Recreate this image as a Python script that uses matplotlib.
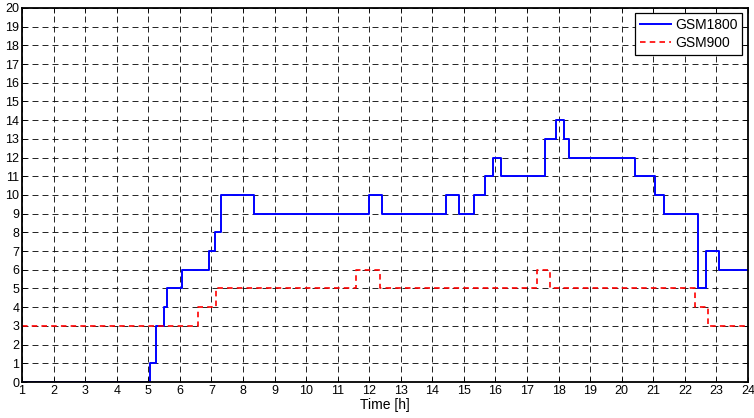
import matplotlib
matplotlib.use("Agg")
import matplotlib.pyplot as plt

plt.rcParams['font.family'] = ['Liberation Sans', 'DejaVu Sans']
plt.rcParams['lines.scale_dashes'] = False

# Step series: time of each change [h] and the value holding from there on
gsm1800_t = [1, 5.05, 5.24, 5.49, 5.58, 6.08, 6.92, 7.1, 7.29, 8.36, 12.0, 12.42,
             14.42, 14.84, 15.33, 15.67, 15.92, 16.17, 17.58, 17.91, 18.16, 18.33,
             20.41, 21.07, 21.34, 22.42, 22.68, 23.09, 24]
gsm1800_v = [0, 1, 3, 4, 5, 6, 7, 8, 10, 9, 10, 9,
             10, 9, 10, 11, 12, 11, 13, 14, 13, 12,
             11, 10, 9, 5, 7, 6, 6]

gsm900_t = [1, 6.56, 7.15, 11.58, 12.34, 17.33, 17.74, 22.32, 22.74, 24]
gsm900_v = [3, 4, 5, 6, 5, 6, 5, 4, 3, 3]

x_ticks = list(range(1, 25))
y_ticks = list(range(0, 21))

fig = plt.figure(figsize=(7.54, 4.18), dpi=100)
ax = fig.add_axes([0.0292, 0.0861, 0.9628, 0.895])

ax.step(gsm1800_t, gsm1800_v, where='post', color='#0000ff', lw=1.4, label='GSM1800')
ax.step(gsm900_t, gsm900_v, where='post', color='#ff0000', lw=1.2,
        linestyle=(0, (4, 3)), label='GSM900')

ax.set_xlim(1, 24)
ax.set_ylim(0, 20)
ax.set_xticks(x_ticks)
ax.set_yticks(y_ticks)
ax.grid(True, color='black', lw=0.6, linestyle=(0, (4.3, 2.9)))
ax.tick_params(direction='in', top=True, right=True, length=3.5, width=0.6,
               labelsize=9, pad=2, colors='black')
for s in ax.spines.values():
    s.set_linewidth(1.3)
    s.set_color('black')

ax.set_xlabel('Time [h]', fontsize=10, labelpad=1)

leg = ax.legend(loc='upper right', fontsize=10, fancybox=False, framealpha=1,
                edgecolor='black', borderpad=0.35, handlelength=2.2,
                handletextpad=0.3, labelspacing=0.25, borderaxespad=0.4)
leg.get_frame().set_linewidth(0.9)

fig.savefig('out.png', dpi=100)
